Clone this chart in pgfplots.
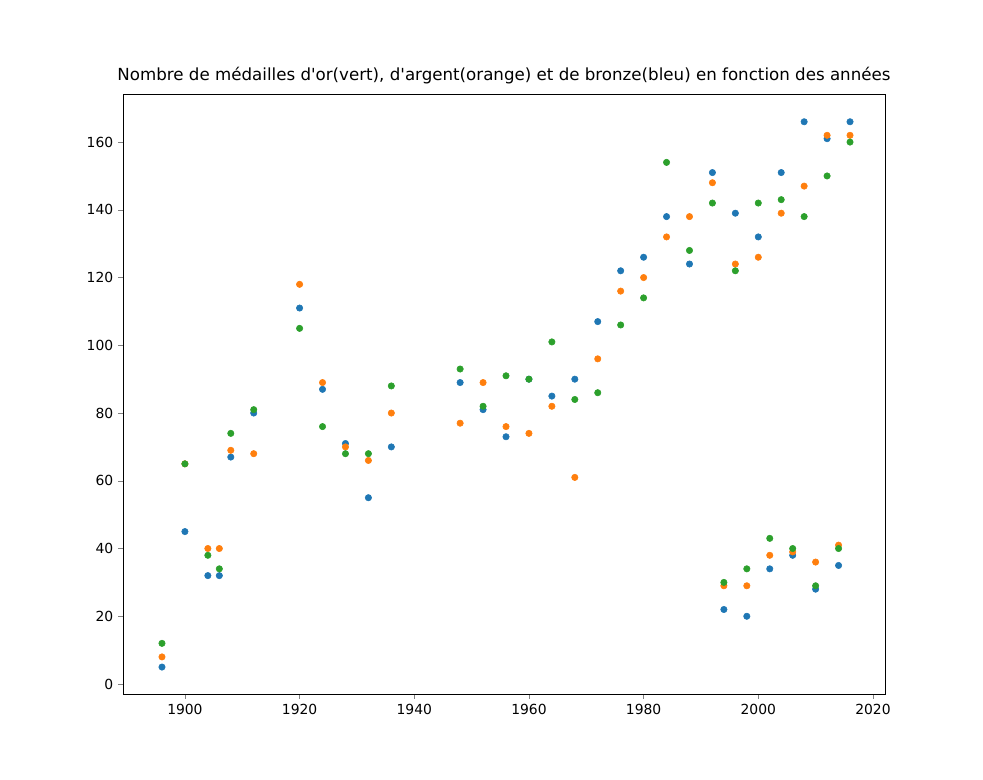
\documentclass[border=0pt]{standalone}
\usepackage{pgfplots}
\pgfplotsset{compat=1.18}
\usepackage{fontspec}
\setmainfont{DejaVu Sans}
\definecolor{tb}{HTML}{1F77B4}
\definecolor{to}{HTML}{FF7F0E}
\definecolor{tg}{HTML}{2CA02C}
\begin{document}
\begin{tikzpicture}
\path (0pt,0pt) rectangle (707.76pt,561.6pt);
\begin{axis}[at={(88.56pt,61.92pt)},anchor=south west,scale only axis,
 width=548.64pt,height=432pt,
 xmin=1889.2,xmax=2022.1,ymin=-2.95,ymax=174.2,
 xtick={1900,1920,...,2020},ytick={0,20,...,160},
 tick align=outside,tick pos=left,major tick length=3.5pt,
 x tick label style={/pgf/number format/1000 sep={}},
 /pgf/number format/assume math mode=true,
 tick label style={font=\fontsize{10}{12}\selectfont},
 title={Nombre de médailles d\textquotesingle or(vert), d\textquotesingle argent(orange) et de bronze(bleu) en fonction des années},
 title style={font=\fontsize{12}{14}\selectfont,yshift=-2pt}]
\addplot[only marks,mark=*,mark size=2.3pt,color=tb,fill=tb] coordinates {
(1896,5)(1900,45)(1904,32)(1906,32)(1908,67)(1912,80)(1920,111)(1924,87)(1928,71)(1932,55)(1936,70)(1948,89)(1952,81)(1956,73)(1960,90)(1964,85)(1968,90)(1972,107)(1976,122)(1980,126)(1984,138)(1988,124)(1992,151)(1996,139)(2000,132)(2004,151)(2008,166)(2012,161)(2016,166)
(1994,22)(1998,20)(2002,34)(2006,38)(2010,28)(2014,35)};
\addplot[only marks,mark=*,mark size=2.3pt,color=to,fill=to] coordinates {
(1896,8)(1900,65)(1904,40)(1906,40)(1908,69)(1912,68)(1920,118)(1924,89)(1928,70)(1932,66)(1936,80)(1948,77)(1952,89)(1956,76)(1960,74)(1964,82)(1968,61)(1972,96)(1976,116)(1980,120)(1984,132)(1988,138)(1992,148)(1996,124)(2000,126)(2004,139)(2008,147)(2012,162)(2016,162)
(1994,29)(1998,29)(2002,38)(2006,39)(2010,36)(2014,41)};
\addplot[only marks,mark=*,mark size=2.3pt,color=tg,fill=tg] coordinates {
(1896,12)(1900,65)(1904,38)(1906,34)(1908,74)(1912,81)(1920,105)(1924,76)(1928,68)(1932,68)(1936,88)(1948,93)(1952,82)(1956,91)(1960,90)(1964,101)(1968,84)(1972,86)(1976,106)(1980,114)(1984,154)(1988,128)(1992,142)(1996,122)(2000,142)(2004,143)(2008,138)(2012,150)(2016,160)
(1994,30)(1998,34)(2002,43)(2006,40)(2010,29)(2014,40)};
\end{axis}
\end{tikzpicture}
\end{document}
